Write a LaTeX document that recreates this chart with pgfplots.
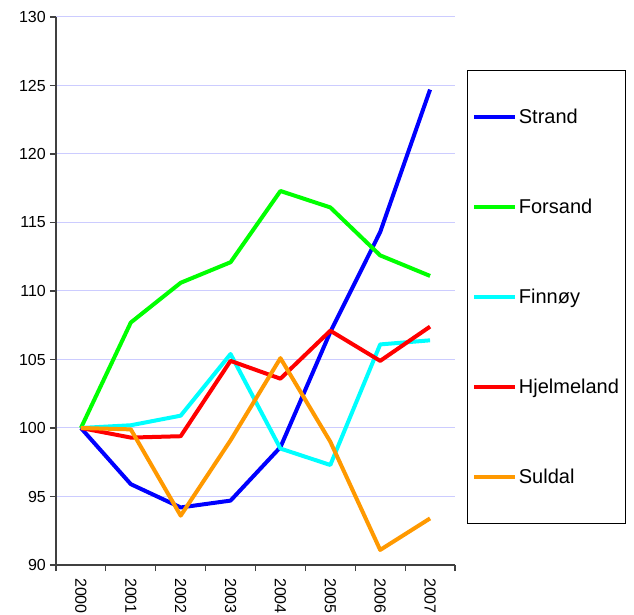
\documentclass[border=0pt]{standalone}
\usepackage{pgfplots}
\pgfplotsset{compat=1.18}
\usepackage{fontspec}
\setmainfont{Liberation Sans}
\definecolor{gridc}{RGB}{204,204,255}
\definecolor{axc}{RGB}{64,64,64}
\definecolor{sblue}{RGB}{0,0,255}
\definecolor{sgreen}{RGB}{0,255,0}
\definecolor{scyan}{RGB}{0,255,255}
\definecolor{sred}{RGB}{255,0,0}
\definecolor{sorange}{RGB}{255,153,0}
\begin{document}
\begin{tikzpicture}
\useasboundingbox (-56bp,-50bp) rectangle (578bp,565bp);
\begin{axis}[
  name=ax, at={(0,0)}, anchor=south west,
  scale only axis, width=399bp, height=548bp,
  xmin=-0.5, xmax=7.5, ymin=90, ymax=130,
  ytick={90,95,...,130},
  xtick={-0.5,0.5,...,7.5}, xticklabels={{},{},{},{},{},{},{},{},{}},
  extra x ticks={0,1,...,7},
  extra x tick labels={2000,2001,2002,2003,2004,2005,2006,2007},
  extra x tick style={major tick length=0pt, grid=none,
    tick label style={rotate=-90, anchor=west, inner xsep=13bp}},
  axis x line=bottom, axis y line=left,
  axis line style={-, draw=axc, line width=1.3bp},
  tick style={draw=axc, line width=1.1bp},
  major tick length=6bp, tick align=outside,
  ymajorgrids, grid style={draw=gridc, line width=1bp},
  tick label style={font=\fontsize{16bp}{19bp}\selectfont},
  y tick label style={inner xsep=4bp},
  /pgf/number format/assume math mode=true,
  legend cell align=left,
  legend style={at={(axis description cs:1.0301,0.9033)}, anchor=north west,
    draw=black, line width=0.8bp, inner xsep=5bp, inner ysep=1.5bp, row sep=0pt,
    font=\fontsize{20bp}{24bp}\selectfont,
    nodes={minimum height=90bp, inner xsep=1.5bp, inner ysep=0pt}},
  legend image code/.code={\draw[#1, line width=4bp] (0bp,0bp) -- (41bp,0bp);},
  every axis plot/.append style={line width=4bp, line join=round, mark=none},
]
\addplot[sblue] coordinates {(0,100) (1,95.9) (2,94.2) (3,94.7) (4,98.6) (5,107.0) (6,114.3) (7,124.7)};
\addlegendentry{Strand}
\addplot[sgreen] coordinates {(0,100) (1,107.7) (2,110.6) (3,112.1) (4,117.3) (5,116.1) (6,112.6) (7,111.1)};
\addlegendentry{Forsand}
\addplot[scyan] coordinates {(0,100) (1,100.2) (2,100.9) (3,105.4) (4,98.5) (5,97.3) (6,106.1) (7,106.4)};
\addlegendentry{Finnøy}
\addplot[sred] coordinates {(0,100) (1,99.3) (2,99.4) (3,104.9) (4,103.6) (5,107.1) (6,104.9) (7,107.4)};
\addlegendentry{Hjelmeland}
\addplot[sorange] coordinates {(0,100) (1,99.9) (2,93.6) (3,99.1) (4,105.1) (5,99.0) (6,91.1) (7,93.4)};
\addlegendentry{Suldal}
\end{axis}
\end{tikzpicture}
\end{document}
